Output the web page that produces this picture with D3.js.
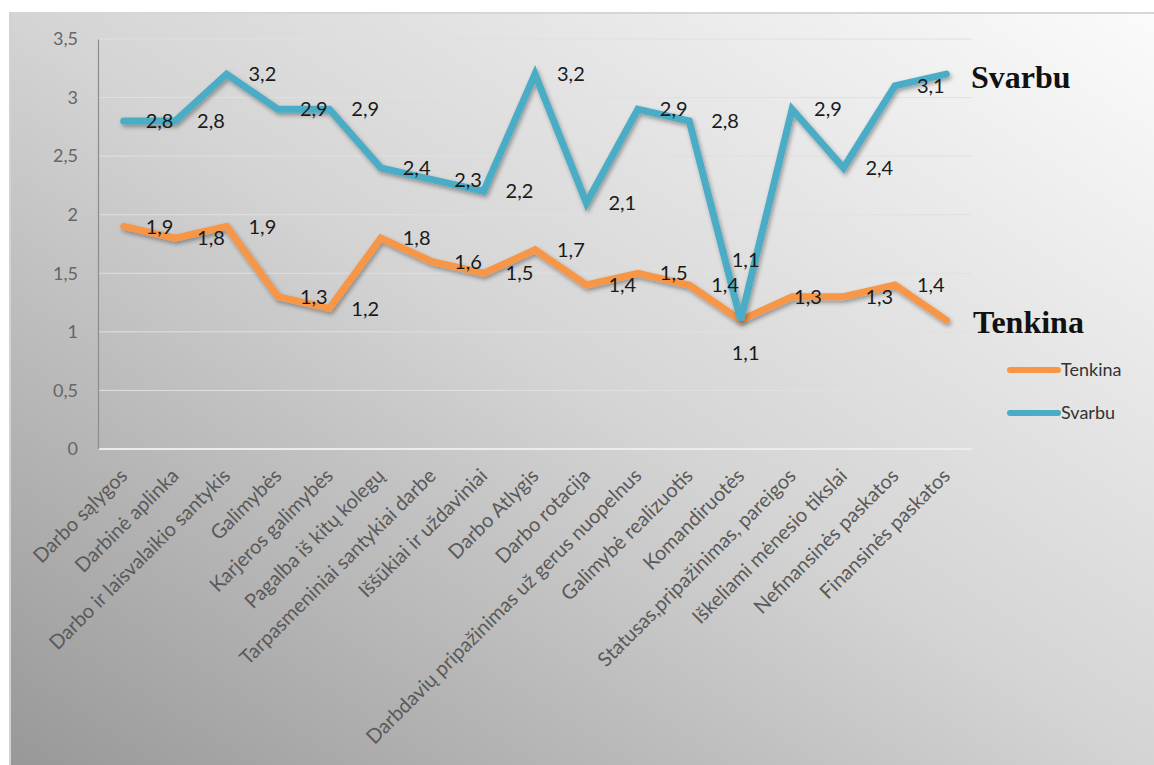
<!DOCTYPE html>
<html>
<head>
<meta charset="utf-8">
<script src="https://cdn.jsdelivr.net/npm/d3@7"></script>
<style>
  html, body { margin: 0; padding: 0; background: #ffffff; }
  svg { display: block; }
</style>
</head>
<body>
<svg id="chart" width="1154" height="765"></svg>
<script>
// Categories (x axis)
const categories = [
  "Darbo sąlygos",
  "Darbinė aplinka",
  "Darbo ir laisvalaikio santykis",
  "Galimybės",
  "Karjeros galimybės",
  "Pagalba iš kitų kolegų",
  "Tarpasmeniniai santykiai darbe",
  "Iššūkiai ir uždaviniai",
  "Darbo Atlygis",
  "Darbo rotacija",
  "Darbdavių pripažinimas už gerus nuopelnus",
  "Galimybė realizuotis",
  "Komandiruotės",
  "Statusas,pripažinimas, pareigos",
  "Iškeliami mėnesio tikslai",
  "Nefinansinės paskatos",
  "Finansinės paskatos"
];

// Series values
const tenkina = [1.9, 1.8, 1.9, 1.3, 1.2, 1.8, 1.6, 1.5, 1.7, 1.4, 1.5, 1.4, 1.1, 1.3, 1.3, 1.4, 1.1];
const svarbu  = [2.8, 2.8, 3.2, 2.9, 2.9, 2.4, 2.3, 2.2, 3.2, 2.1, 2.9, 2.8, 1.1, 2.9, 2.4, 3.1, 3.2];

// Data labels shown for each series (last point has none)
const tenkinaLabels = [1.9, 1.8, 1.9, 1.3, 1.2, 1.8, 1.6, 1.5, 1.7, 1.4, 1.5, 1.4, 1.1, 1.3, 1.3, 1.4];
const svarbuLabels  = [2.8, 2.8, 3.2, 2.9, 2.9, 2.4, 2.3, 2.2, 3.2, 2.1, 2.9, 2.8, 1.1, 2.9, 2.4, 3.1];

// Y axis ticks
const yTicks = [0, 0.5, 1, 1.5, 2, 2.5, 3, 3.5];

const seriesNames = ["Tenkina", "Svarbu"];
const seriesColors = ["#f79646", "#4bacc6"];

const svg = d3.select("#chart");
const W = 1154, H = 765;
const fmt = v => String(v).replace(".", ",");

// ---- background gradient of the chart area (dark bottom-left, light top-right)
const defs = svg.append("defs");
const bg = defs.append("linearGradient")
  .attr("id", "bgGrad")
  .attr("x1", 0).attr("y1", 1)
  .attr("x2", 1).attr("y2", 0);
bg.append("stop").attr("offset", "0%").attr("stop-color", "#989898");
bg.append("stop").attr("offset", "50%").attr("stop-color", "#d4d4d4");
bg.append("stop").attr("offset", "100%").attr("stop-color", "#fbfbfb");

const shadow = defs.append("filter")
  .attr("id", "lineShadow")
  .attr("x", "-5%").attr("y", "-20%").attr("width", "110%").attr("height", "140%");
shadow.append("feDropShadow")
  .attr("dx", 1.5).attr("dy", 2.5).attr("stdDeviation", 2)
  .attr("flood-color", "#000").attr("flood-opacity", 0.35);

svg.append("rect")
  .attr("x", 9).attr("y", 12)
  .attr("width", W - 9).attr("height", H - 12)
  .attr("fill", "url(#bgGrad)");
// chart area edges
svg.append("line").attr("x1", 9).attr("x2", W).attr("y1", 13).attr("y2", 13)
  .attr("stroke", "#d6d6d6").attr("stroke-width", 2);
svg.append("line").attr("x1", 10).attr("x2", 10).attr("y1", 12).attr("y2", H)
  .attr("stroke", "#d2d2d2").attr("stroke-width", 2);

// ---- scales
const x = d3.scaleBand().domain(categories).range([98, 972]);
const y = d3.scaleLinear().domain([0, 3.5]).range([449, 39]);
const cx = c => x(c) + x.bandwidth() / 2;

// ---- gridlines
svg.append("g")
  .selectAll("line")
  .data(yTicks)
  .join("line")
  .attr("x1", 98).attr("x2", 972)
  .attr("y1", d => y(d)).attr("y2", d => y(d))
  .attr("stroke", d => d === 0 ? "#ececec" : "#e0e0e0")
  .attr("stroke-width", d => d === 0 ? 2 : 1);

// ---- y axis
const yAxis = svg.append("g")
  .attr("transform", "translate(98,0)")
  .call(d3.axisLeft(y).tickValues(yTicks).tickSize(0).tickPadding(20).tickFormat(fmt));
yAxis.select(".domain").attr("stroke", "#8c8c8c").attr("stroke-width", 1.2);
yAxis.selectAll("text")
  .attr("font-family", "Lato, 'Open Sans', sans-serif")
  .attr("font-size", 18)
  .attr("fill", "#666666");

// ---- x axis labels
const xAxis = svg.append("g")
  .attr("transform", "translate(0,449)")
  .call(d3.axisBottom(x).tickSize(0).tickPadding(0));
xAxis.select(".domain").remove();
xAxis.selectAll("text")
  .attr("font-family", "Lato, 'Open Sans', sans-serif")
  .attr("font-size", 20)
  .attr("fill", "#5a5a5a")
  .attr("text-anchor", "end")
  .attr("dy", 0)
  .attr("transform", "translate(5,28) rotate(-45)");

// ---- lines
const line = d3.line().x((d, i) => cx(categories[i])).y(d => y(d));
const seriesValues = [tenkina, svarbu];
seriesValues.forEach((vals, si) => {
  svg.append("path")
    .datum(vals)
    .attr("d", line)
    .attr("fill", "none")
    .attr("stroke", seriesColors[si])
    .attr("stroke-width", 7)
    .attr("stroke-linejoin", "miter")
    .attr("stroke-linecap", "round")
    .attr("filter", "url(#lineShadow)");
});

// ---- data labels
const labelGroup = svg.append("g")
  .attr("font-family", "Lato, 'Open Sans', sans-serif")
  .attr("font-size", 20)
  .attr("fill", "#1a1a1a");

function drawLabels(labels, kind) {
  labelGroup.append("g")
    .selectAll("text")
    .data(labels)
    .join("text")
    .attr("x", (d, i) => {
      if (i === 12) return cx(categories[i]) + 5;
      if (kind === "t" && i === 13) return cx(categories[i]) + 2;
      return cx(categories[i]) + 22;
    })
    .attr("y", (d, i) => {
      if (i === 12) return kind === "t" ? y(d) + 33 : y(d) - 60;
      return y(d);
    })
    .attr("dy", "0.36em")
    .attr("text-anchor", (d, i) => i === 12 ? "middle" : "start")
    .text(fmt);
}
drawLabels(tenkinaLabels, "t");
drawLabels(svarbuLabels, "s");

// ---- series name callouts
const callout = svg.append("g")
  .attr("font-family", "'Liberation Serif', 'Times New Roman', serif")
  .attr("font-weight", "bold")
  .attr("font-size", 32)
  .attr("fill", "#111111");
callout.append("text").attr("x", 971).attr("y", 88).text("Svarbu");
callout.append("text").attr("x", 973).attr("y", 333).text("Tenkina");

// ---- legend
const legend = svg.append("g")
  .attr("font-family", "Lato, 'Open Sans', sans-serif")
  .attr("font-size", 18)
  .attr("fill", "#333333");
const legendY = [370, 413];
seriesNames.forEach((name, i) => {
  legend.append("line")
    .attr("x1", 1010).attr("x2", 1058)
    .attr("y1", legendY[i]).attr("y2", legendY[i])
    .attr("stroke", seriesColors[i]).attr("stroke-width", 6)
    .attr("stroke-linecap", "round");
  legend.append("text")
    .attr("x", 1061).attr("y", legendY[i]).attr("dy", "0.36em")
    .text(name);
});
</script>
</body>
</html>
